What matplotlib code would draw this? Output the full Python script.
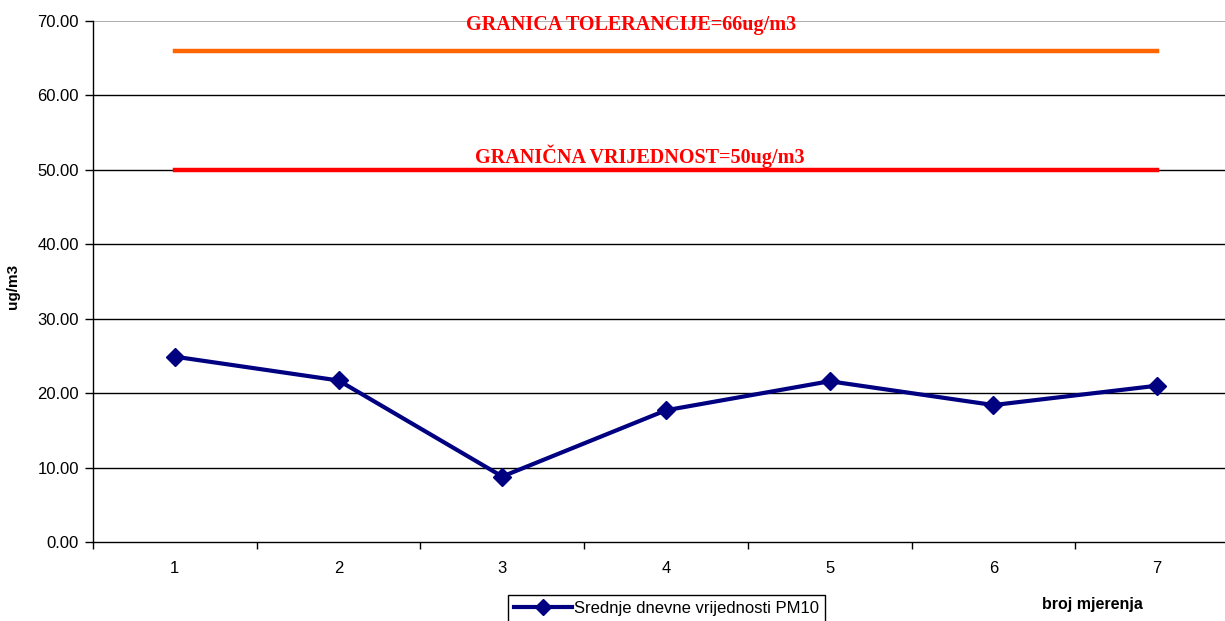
import matplotlib
matplotlib.use("Agg")
import matplotlib.pyplot as plt
from matplotlib.lines import Line2D

# Data
categories = [1, 2, 3, 4, 5, 6, 7]
pm10 = [24.9, 21.7, 8.8, 17.7, 21.6, 18.4, 21.0]
tolerance = [66, 66, 66, 66, 66, 66, 66]
limit_value = [50, 50, 50, 50, 50, 50, 50]
yticks = [0, 10, 20, 30, 40, 50, 60, 70]
series_label = "Srednje dnevne vrijednosti PM10"
tol_text = "GRANICA TOLERANCIJE=66ug/m3"
lim_text = "GRANIČNA VRIJEDNOST=50ug/m3"

plt.rcParams['font.family'] = ['Liberation Sans', 'DejaVu Sans']

W, H = 1225, 621
fig = plt.figure(figsize=(W / 100, H / 100), dpi=100)
ax = fig.add_axes([93 / W, 1 - 542 / H, 1146 / W, 521 / H])

ax.set_xlim(0.5, 7.5)
ax.set_ylim(0, 70)

# gridlines
for v in yticks[1:-1]:
    ax.axhline(v, color='#000000', lw=1.0, zorder=1)
ax.axhline(70, color='#a0a0a0', lw=1.2, zorder=1)

ax.plot(categories, tolerance, color='#ff6600', lw=3.2, solid_capstyle='projecting', zorder=2)
ax.plot(categories, limit_value, color='#ff0000', lw=3.2, solid_capstyle='projecting', zorder=2)
ax.plot(categories, pm10, color='#000080', lw=3.0, marker='D', markersize=9.5,
        markerfacecolor='#000080', markeredgecolor='#000080', zorder=3)

for s in ['top', 'right']:
    ax.spines[s].set_visible(False)
ax.spines['left'].set_color('#000000')
ax.spines['bottom'].set_color('#000000')
ax.spines['left'].set_linewidth(1.0)
ax.spines['bottom'].set_linewidth(1.0)

ax.set_yticks(yticks)
ax.set_yticklabels([f"{v:.2f}" for v in yticks])
ax.tick_params(axis='y', direction='out', length=6, width=1, labelsize=12, pad=4, colors='#000000')

# category ticks between categories, labels at centers
ax.set_xticks([c + 0.5 for c in [0] + categories[:-1]] + [7.5])
ax.set_xticklabels([])
ax.tick_params(axis='x', direction='out', length=5, width=1)
ax.set_xticks(categories, minor=True)
ax.set_xticklabels([str(c) for c in categories], minor=True)
ax.tick_params(axis='x', which='minor', length=0, labelsize=12, pad=14)

ax.set_ylabel("ug/m3", fontsize=11, fontweight='bold')
ax.yaxis.set_label_coords(-0.064, 0.49)

fig.text(1092 / W, 1 - 605 / H, "broj mjerenja", fontsize=11.5, fontweight='bold',
         ha='center', va='center')

ax.text(3.79, 68.8, tol_text, color='#ff0000', fontsize=14.5, fontweight='bold',
        family='Liberation Serif', ha='center', va='baseline', zorder=4)
ax.text(3.84, 50.9, lim_text, color='#ff0000', fontsize=14.5, fontweight='bold',
        family='Liberation Serif', ha='center', va='baseline', zorder=4)

handle = Line2D([], [], color='#000080', lw=3.0, marker='D', markersize=8)
leg = fig.legend([handle], [series_label], loc='upper left',
                 bbox_to_anchor=(508 / W, 1 - 595 / H), fontsize=12, frameon=True,
                 fancybox=False, edgecolor='#000000', framealpha=1,
                 handlelength=3.5, handletextpad=0.1, borderpad=0.35, borderaxespad=0)
leg.get_frame().set_linewidth(1.0)

fig.savefig("out.png", dpi=100)
